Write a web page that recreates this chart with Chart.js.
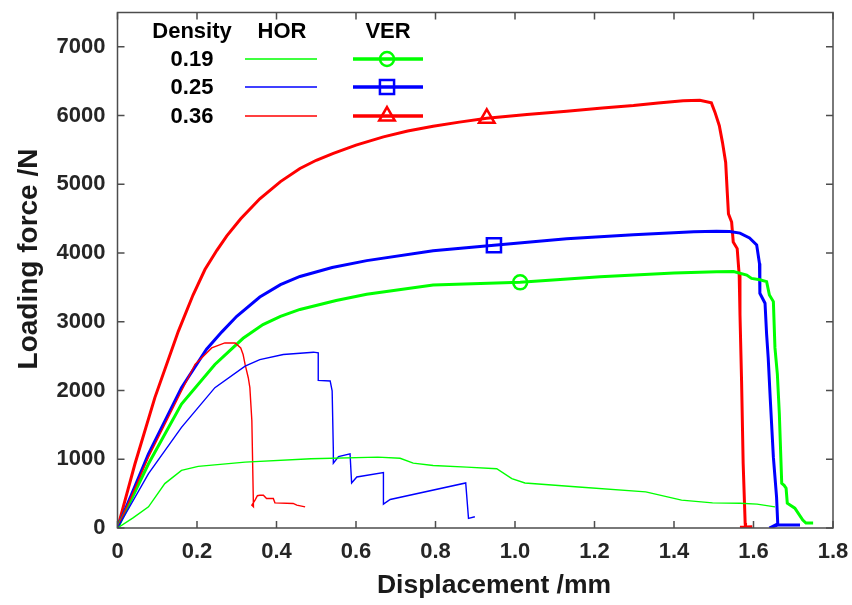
<!DOCTYPE html>
<html>
<head>
<meta charset="utf-8">
<script src="https://cdn.jsdelivr.net/npm/chart.js@4/dist/chart.umd.min.js"></script>
<style>
  html, body { margin: 0; padding: 0; background: #ffffff; }
  #wrap { width: 852px; height: 605px; }
</style>
</head>
<body>
<div id="wrap"><canvas id="c" width="852" height="605"></canvas></div>
<script>
// Force–displacement records, [displacement mm, force N]
const densities = ['0.19', '0.25', '0.36'];
const seriesColors = ['#00ff00', '#0000ff', '#ff0000'];
const markerStyles = ['circle', 'rect', 'triangle'];
const markerRadii = [7, 10, 9];

// HOR specimens (thin lines)
const horD019 = [[0,0],[0.04,150],[0.078,308],[0.119,646],[0.161,838],[0.203,896],[0.321,958],[0.487,1007],[0.655,1031],[0.711,1015],[0.744,944],[0.794,910],[0.879,886],[0.954,862],[0.992,718],[1.025,655],[1.16,597],[1.329,525],[1.419,405],[1.497,366],[1.566,361],[1.609,347],[1.654,308]];
const horD025 = [[0,0],[0.078,790],[0.161,1464],[0.245,2042],[0.321,2355],[0.358,2450],[0.417,2524],[0.493,2558],[0.505,2548],[0.505,2148],[0.535,2139],[0.540,1994],[0.543,1127],[0.543,944],[0.556,1040],[0.585,1079],[0.589,655],[0.602,742],[0.669,805],[0.669,347],[0.686,415],[0.876,655],[0.883,140],[0.899,163]];
const horD036 = [[0,0],[0.078,1031],[0.161,1994],[0.195,2380],[0.237,2620],[0.27,2692],[0.296,2692],[0.31,2620],[0.316,2524],[0.321,2380],[0.329,2186],[0.333,2042],[0.338,1561],[0.34,935],[0.342,308],[0.338,332],[0.346,405],[0.352,470],[0.358,477],[0.367,477],[0.375,429],[0.392,429],[0.396,366],[0.442,357],[0.451,332],[0.472,308]];

// VER specimens (thick lines)
const verD019 = [[0,0],[0.078,935],[0.161,1802],[0.245,2380],[0.316,2760],[0.366,2960],[0.41,3080],[0.459,3180],[0.55,3310],[0.627,3400],[0.794,3536],[1.013,3574],[1.214,3656],[1.4,3710],[1.507,3728],[1.55,3730],[1.583,3680],[1.595,3632],[1.616,3612],[1.633,3584],[1.64,3390],[1.65,3294],[1.654,2620],[1.66,2240],[1.665,1662],[1.671,650],[1.677,621],[1.682,578],[1.685,361],[1.704,289],[1.724,116],[1.732,72],[1.75,72]];
const verD025 = [[0,0],[0.078,1079],[0.161,2042],[0.224,2601],[0.262,2850],[0.3,3080],[0.358,3360],[0.41,3540],[0.459,3660],[0.54,3790],[0.627,3890],[0.794,4035],[0.947,4114],[1.13,4210],[1.298,4267],[1.45,4310],[1.507,4316],[1.54,4315],[1.566,4290],[1.59,4220],[1.608,4118],[1.615,3849],[1.616,3415],[1.629,3270],[1.633,2818],[1.637,2476],[1.642,1897],[1.65,1031],[1.658,452],[1.661,60],[1.64,0],[1.662,45],[1.717,45]];
const verD036 = [[0,0],[0.044,935],[0.094,1897],[0.153,2861],[0.19,3390],[0.22,3760],[0.25,4040],[0.275,4250],[0.31,4500],[0.358,4790],[0.41,5040],[0.459,5230],[0.5,5350],[0.543,5450],[0.6,5570],[0.669,5690],[0.73,5775],[0.794,5845],[0.86,5905],[0.929,5960],[1.03,6015],[1.13,6065],[1.22,6110],[1.298,6146],[1.36,6185],[1.423,6215],[1.465,6222],[1.494,6185],[1.503,6050],[1.514,5853],[1.522,5607],[1.53,5318],[1.534,4884],[1.537,4571],[1.545,4451],[1.549,4162],[1.559,4065],[1.564,3680],[1.566,3107],[1.57,2139],[1.574,939],[1.579,72],[1.58,10],[1.566,10],[1.597,20]];

// One marker on each VER curve
const verMarkers = [[1.013,3574],[0.947,4114],[0.929,5960]];

// Axis ranges and tick values
const xRange = [0, 1.8];
const yRange = [0, 7500];
const xTicks = [0, 0.2, 0.4, 0.6, 0.8, 1.0, 1.2, 1.4, 1.6, 1.8];
const yTicks = [0, 1000, 2000, 3000, 4000, 5000, 6000, 7000];
const xTickLabels = ['0', '0.2', '0.4', '0.6', '0.8', '1.0', '1.2', '1.4', '1.6', '1.8'];

const FONT = '"Liberation Sans", Arial, Helvetica, sans-serif';
const toPts = arr => arr.map(([x, y]) => ({ x, y }));

const horSets = [horD019, horD025, horD036];
const verSets = [verD019, verD025, verD036];

const datasets = [];
horSets.forEach((d, i) => datasets.push({
  label: 'HOR ' + densities[i], data: toPts(d), borderColor: seriesColors[i],
  borderWidth: 1.4, pointRadius: 0, showLine: true, tension: 0
}));
verSets.forEach((d, i) => datasets.push({
  label: 'VER ' + densities[i], data: toPts(d), borderColor: seriesColors[i],
  borderWidth: 3, pointRadius: 0, showLine: true, tension: 0
}));
verMarkers.forEach((m, i) => datasets.push({
  label: 'VER marker ' + densities[i], data: toPts([m]), showLine: false,
  pointStyle: markerStyles[i], pointRadius: markerRadii[i],
  pointBorderWidth: 2.5, pointBorderColor: seriesColors[i],
  pointBackgroundColor: 'rgba(0,0,0,0)'
}));

// Box frame with inward ticks on all four sides
const framePlugin = {
  id: 'frame',
  afterDatasetsDraw(chart) {
    const { ctx, chartArea: a, scales } = chart;
    ctx.save();
    ctx.strokeStyle = '#4d4d4d';
    ctx.lineWidth = 1.5;
    ctx.strokeRect(a.left, a.top, a.right - a.left, a.bottom - a.top);
    const L = 7;
    ctx.beginPath();
    scales.x.ticks.forEach(t => {
      const px = scales.x.getPixelForValue(t.value);
      ctx.moveTo(px, a.bottom); ctx.lineTo(px, a.bottom - L);
      ctx.moveTo(px, a.top); ctx.lineTo(px, a.top + L);
    });
    scales.y.ticks.forEach(t => {
      const py = scales.y.getPixelForValue(t.value);
      ctx.moveTo(a.left, py); ctx.lineTo(a.left + L, py);
      ctx.moveTo(a.right, py); ctx.lineTo(a.right - L, py);
    });
    ctx.stroke();
    ctx.restore();
  }
};

// Axis titles
const titlePlugin = {
  id: 'axisTitles',
  afterDraw(chart) {
    const { ctx } = chart;
    ctx.save();
    ctx.fillStyle = '#1a1a1a';
    ctx.textAlign = 'center';
    ctx.textBaseline = 'middle';
    ctx.font = 'bold 26.5px ' + FONT;
    ctx.fillText('Displacement /mm', 494, 586);
    ctx.translate(29, 259);
    ctx.rotate(-Math.PI / 2);
    ctx.font = 'bold 28px ' + FONT;
    ctx.fillText('Loading force /N', 0, 0);
    ctx.restore();
  }
};

// Density table key: HOR thin line, VER thick line with marker
const keyPlugin = {
  id: 'densityKey',
  afterDraw(chart) {
    const { ctx } = chart;
    ctx.save();
    ctx.font = 'bold 22px ' + FONT;
    ctx.textAlign = 'center';
    ctx.textBaseline = 'middle';
    ctx.fillStyle = '#000000';
    ctx.fillText('Density', 192, 32);
    ctx.fillText('HOR', 282, 32);
    ctx.fillText('VER', 388, 32);
    const rowsY = [59, 87, 116];
    densities.forEach((d, i) => {
      const y = rowsY[i];
      ctx.fillStyle = '#000000';
      ctx.fillText(d, 192, y + 1);
      ctx.strokeStyle = seriesColors[i];
      ctx.lineWidth = 1.6;
      ctx.beginPath(); ctx.moveTo(245, y); ctx.lineTo(317, y); ctx.stroke();
      ctx.lineWidth = 3.5;
      ctx.beginPath(); ctx.moveTo(353, y); ctx.lineTo(423, y); ctx.stroke();
      ctx.lineWidth = 2.5;
      ctx.fillStyle = 'rgba(0,0,0,0)';
      Chart.helpers.drawPoint(ctx, {
        pointStyle: markerStyles[i], radius: markerRadii[i], rotation: 0, borderWidth: 2.5
      }, 387, y);
    });
    ctx.restore();
  }
};

const tickFont = { family: FONT, size: 22, weight: 'bold' };

new Chart(document.getElementById('c'), {
  type: 'scatter',
  data: { datasets },
  options: {
    responsive: false,
    animation: false,
    devicePixelRatio: 1,
    layout: { padding: { left: 0, right: 19, top: 9, bottom: 0 } },
    plugins: { legend: { display: false }, tooltip: { enabled: false } },
    scales: {
      x: {
        type: 'linear', min: xRange[0], max: xRange[1],
        afterBuildTicks(s) { s.ticks = xTicks.map(v => ({ value: v })); },
        afterFit(s) { s.height = 77; s.paddingLeft = 0; s.paddingRight = 0; },
        grid: { display: false, drawTicks: false },
        border: { display: false },
        ticks: {
          padding: 11, font: tickFont, color: '#262626',
          maxRotation: 0, minRotation: 0, autoSkip: false,
          callback: (v, i) => xTickLabels[i]
        }
      },
      y: {
        type: 'linear', min: yRange[0], max: yRange[1],
        afterBuildTicks(s) { s.ticks = yTicks.map(v => ({ value: v })); },
        afterFit(s) { s.width = 117.5; s.paddingTop = 0; s.paddingBottom = 0; },
        grid: { display: false, drawTicks: false },
        border: { display: false },
        ticks: {
          padding: 12, font: tickFont, color: '#262626',
          autoSkip: false, callback: v => String(v)
        }
      }
    }
  },
  plugins: [framePlugin, titlePlugin, keyPlugin]
});
</script>
</body>
</html>
